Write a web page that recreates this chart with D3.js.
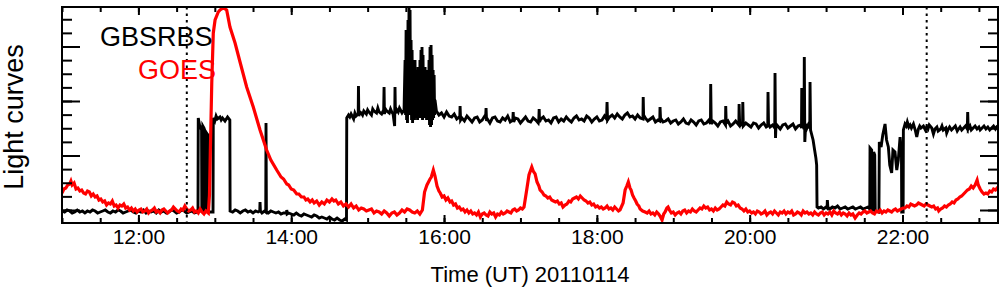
<!DOCTYPE html>
<html>
<head>
<meta charset="utf-8">
<script src="https://cdn.jsdelivr.net/npm/d3@7"></script>
<style>
  body { margin: 0; background: #fff; }
  text { font-family: "Liberation Sans", Arial, Helvetica, sans-serif; }
</style>
</head>
<body>
<script>
// ********************** DATA **************************************************************
// time = minutes after 11:00 UT on 2011-01-14, flux = arbitrary units (one minor tick = 13.625)
var gbsrbs = [
  [0,-1],[2,-2],[4,0],[6,-1],[8,-3],[10,-2],[12,0],[14,-2],[16,-1],[18,-3],[20,-1],[22,-2],[24,0],[26,-1],[28,-3],[30,-2],[32,-1],[34,0],[36,-2],[38,-3],[40,-1],[42,-2],[44,0],[46,-1],[48,-3],[50,-2],[52,-1],[54,0],[56,-2],[58,-3],[60,-1],[62,-2],[64,0],[66,-3],[68,-1],[70,-2],[72,-1],[74,-3],[76,0],[78,-2],[80,-1],[82,-3],[84,-2],[86,0],[88,-1],[90,-3],[92,-2],[94,0],[96,-1],[98,-3],[100,-2],[102,-1],[104,-3],[106.8,-2],
  [107,92],[108,85],[109,82],[109.6,80],[109.8,-1],[110.4,-1],[110.6,84],[111.5,82],[112,80],[112.2,-1],[112.8,-1],[113,78],[114,76],[114.8,75],[115,-2],[118.6,-2],
  [118.8,92],[120,89],[121,94],[122,91],[124,93],[125,90],[126,92],[128,89],[130,93],[131.8,90],[132,-1],
  [134,-2],[136,0],[138,-1],[140,-3],[142,-1],[144,0],[146,-2],[148,-1],[150,-3],[152,-1],[154,-2],[155.3,-1],[155.5,8],[155.8,-1],[157,-3],[159,-1],[160,-2],[160.2,87],[160.5,-2],[162,-3],[164,-1],[166,-2],[168,-3],[170,-2],[172,-4],[174,-3],[176.3,-3],[176.5,0],[176.8,-4],[178,-3],[180,-4],[182,-5],[184,-3],[186,-5],[188,-6],[190,-4],[192,-5],[194,-6],[196,-7],[198,-5],[200,-6],[202,-8],[204,-7],[206,-8],[208,-9],[210,-7],[212,-9],[214,-10],[216,-8],[218,-10],[220,-11],[222,-9],[223.4,-10],
  [223.6,92],[225,95],[226,93],[227,96],[229,91],[230,97],[231,94],[232.6,96],[232.8,124],[233.1,94],[234,98],[235,97],[236,95],[237,99],[239,96],[240,100],[241,98],[243,95],[244,101],[245,99],[247,97],[248,102],[249,98],[251,96],[252.6,100],[252.9,123],[253.2,96],[254,101],[255,99],[257,97],[258,101],[259,98],[260,96],[261.2,84],[261.5,123],[261.8,97],[263,100],[264,98],[265,102],[267,97],[268.6,100],
  [269.4,150],[269.8,95],[270.2,180],[270.6,90],[270.9,175],[271.3,87],[271.7,190],[272.1,95],[272.5,203],[272.9,100],[273.3,200],[273.7,95],[274.1,170],[274.5,90],[274.9,160],[275.3,87],[275.7,150],[276.0,95],[276.4,145],[276.8,90],[277.2,150],[277.6,92],[278.0,135],[278.4,95],[278.8,140],[279.2,90],[279.6,143],[280.0,95],[280.4,130],[280.8,92],[281.1,150],[281.5,95],[281.9,160],[282.3,93],[282.7,163],[283.1,90],[283.5,155],[283.9,95],[284.3,140],[284.7,92],[285.1,143],[285.5,95],[285.9,135],[286.3,90],[286.7,140],[287.0,95],[287.4,125],[287.8,93],[288.2,150],[288.6,85],[289.0,163],[289.4,83],[289.8,165],[290.2,85],[290.6,155],[291.0,90],[291.4,140],[291.8,92],[292.2,135],[292.6,95],[292.9,110],
  [294,99],[296,95],[298,97],[300,93],[302,98],[304,94],[306,93],[308,96],[310,91],[312,93],[312.4,94],[312.6,104],[313,90],[314,92],[316,89],[318,94],[320,91],[322,88],[324,92],[326,93],[328,88],[330,90],[332,94],[332.6,92],[333,102],[333.4,89],[334,91],[336,87],[338,92],[340,93],[342,89],[344,88],[346,92],[348,90],[350,94],[352,88],[354,90],[354.3,98],[354.7,88],[356,92],[358,91],[360,87],[362,90],[364,93],[366,89],[368,88],[370,92],[372,90],[374,87],[374.4,90],[374.7,101],[375,88],[376,91],[378,93],[380,89],[382,90],[384,87],[386,92],[388,93],[390,88],[392,91],[394,89],[396,93],[398,90],[400,88],[402,92],[404,94],[406,90],[408,91],[410,89],[412,94],[414,92],[416,88],[418,91],[420,93],[422,89],[424,90],[426,94],[427.6,91],[428,108],[428.4,90],[430,93],[432,95],[434,92],[436,96],[438,93],[440,91],[442,95],[444,97],[446,93],[448,94],[450,91],[452,95],[454,92],[456.2,91],[456.4,113],[456.7,95],[458,92],[460,89],[462,91],[464,93],[466,88],[468,90],[469.4,89],[469.6,103],[470,92],[472,88],[474,89],[476,91],[478,87],[480,89],[482,90],[484,86],[486,88],[488,91],[490,87],[492,86],[494,90],[496,88],[498,85],[500,89],[502,90],[504,86],[506,87],[508,90],[509.2,86],[509.4,126],[509.8,86],[511,89],[513,87],[515,84],[517,88],[519,89],[521,85],[521.2,104],[521.6,87],[523,89],[525,84],[527,86],[529,89],[531.5,85],[531.7,106],[532.1,88],[533,85],[534.4,87],[534.6,108],[535,84],[537,87],[539,85],[541,83],[543,87],[545,86],[547,82],[549,85],[551,87],[553,83],[554.2,84],[554.4,118],[554.8,86],[556,83],[558,85],[559.7,82],[559.9,137],[560.3,72],[560.7,86],[562,84],[564,81],[566,85],[568,86],[570,82],[572,84],[574,86],[576,81],[578,84],[580,85],[580.7,82],[580.9,122],[581.3,86],[582.7,81],[582.9,153],[583.3,68],[584,86],[585,82],[586,85],[587.2,82],[587.4,128],[587.8,80],[589.8,70],[591,60],[592,52],[592.6,45],[592.9,3],
  [594,2],[596,3],[598,1],[600,3],[600.8,2],[601,10],[601.4,3],[603,1],[605,3],[607,2],[609,4],[611,1],[613,2],[615,3],[617,1],[619,2],[621,3],[623,1],[625,2],[627,3],[629,1],[631,2],[633,3],[634.3,1],
  [634.5,62],[635.8,60],[636.2,0],[637,0],[637.4,58],[638.2,55],[638.6,-1],[641.5,-2],[641.8,68],[643.2,63],[644.5,75],[646.3,86],[647.5,70],[648.9,63],[650,45],[651.5,37],[652.5,60],[654.1,58],[655.5,40],[656.7,50],[658.1,73],[659.2,55],[659.4,-2],[660.5,-2],
  [660.7,80],[662,86],[663,84],[663.8,88],[665,83],[666,85],[667,82],[668.6,86],[670,80],[671.2,73],[672.5,81],[673.5,84],[674.5,82],[676.4,84],[678,80],[679,83],[680,81],[681,85],[683,82],[684.3,76],[685.5,81],[687,83],[688,79],[690,81],[691,84],[692,80],[694,82],[694.7,77],[696,81],[697,83],[698.5,80],[700,82],[701.5,84],[703,79],[704,81],[705.2,83],[706.5,80],[708,82],[709.5,84],[710.9,81],[711.2,98],[711.6,81],[713,84],[714,80],[715.5,82],[717,84],[718.5,81],[720,83],[721,80],[722.5,82],[724,84],[725.5,81],[727,83],[728.5,80],[730,82],[731.5,84],[733,81],[734,83],[735,82]
];

var goes = [
  [0,17],[1.5,21],[3,22],[4.5,25],[6,26],[7,29],[8,25],[9.5,27],[11,21],[12.5,22],[14,19],[15.5,20],[17,17],[18.5,16],[20,19],[21.5,18],[23,14],[24.5,16],[26,13],[27.5,14],[29,10],[30.5,11],[32,8],[33.5,9],[35,5],[36.5,7],[38,6],[39.5,9],[41,4],[42.5,5],[44,2],[45.5,5],[47,4],[48.5,6],[50,2],[51.5,3],[53,0],[54.5,2],[56,-1],[57.5,1],[59,-2],[60.5,0],[62,1],[63.5,-2],[65,-1],[66.5,1],[68,-3],[69.5,-1],[71,0],[72.5,2],[74,-2],[75.5,-1],[77,-3],[78.5,0],[80,1],[81.5,-1],[83,-3],[84.5,-1],[86,0],[87.5,3],[89,1],[90.5,-1],[92,-2],[93.5,1],[95,0],[96.5,4],[98,1],[99.5,-1],[101,0],[102.5,2],[104,-2],[105.5,-1],[107,-3],[108.5,1],[110,-2],[111.5,-4],[113,-1],[114.9,-3],
  [115.8,15],[116.5,60],[117.6,127],[118.8,177],[120.2,190],[122.7,198],[124.1,200],[126.7,202],[129.3,200],[131.9,183],[135.9,167],[139.8,148],[145,123],[150.2,103],[155.5,80],[160.7,60],[164,50],[168.6,40],[172,33],[174,31],[176.5,26],[178,25],[180,21],[182,20],[184.3,16],[186,16],[188,13],[190,13],[191.5,10],[193,11],[194.8,8],[196.5,10],[198,7],[200,9],[202,5],[204,8],[206,6],[208,10],[210,8],[212,11],[213.5,9],[215,10],[217,6],[219,8],[221,4],[223,6],[225,3],[227,6],[229,2],[231,4],
  [233,0],[235,2],[237,1],[239,-1],[241,0],[243,1],[245,-3],[247,-1],[249,-2],[251,-4],[253,-1],[255,-3],[257,-6],[259,-3],[261,-2],[263,-5],[265,-3],[267,0],[269,-2],[271,1],[273,0],[275,-2],[277,-3],[279,-1],[281,-4],[283,0],
  [284.7,18],[286.6,25],[289,31],[290,33],[291.6,40],[292.9,34],[294.5,24],[296,19],[297,17],[298.5,13],[300,14],[301.5,10],[303,12],[304.7,8],[306,9],[307.5,5],[309,6],
  [310.5,2],[312,3],[313.5,0],[315,1],[316.5,-2],[318,0],[319.5,-3],[321,-1],[322.5,-4],[324,-3],[325.5,-5],[327,-2],[328.5,-7],[330,-4],[331.5,-3],[333,-5],[334.5,-6],[336,-2],[337.5,-4],[339,-3],[340.5,-7],[342,-4],[343.5,-5],[345,-2],[346.5,-4],[348,-3],[349.5,-1],[351,-2],[352.5,-3],[354,0],[355.5,1],[357,-1],[358.5,0],[360,2],[361.5,1],[362.8,3],
  [364.9,20],[366.7,35],[368.9,43],[370,39],[371.5,36],[373,28],[374.5,24],[375.4,20],[377,18],[378.5,15],[380,14],[381.5,12],[383,13],[384.5,10],[386,9],[387.5,8],[389,9],[390.5,6],[392,7],[393.4,3],[395,5],[396.5,6],[398,9],[399.5,8],[401,11],[402.5,12],[404,13],[405.5,11],[407,14],[408.5,12],[410,10],[411.5,9],[413,7],[414.5,8],[416,5],[417.5,6],[419,3],[420.5,4],[422,2],[423.5,3],[425,1],[426.5,2],[428,4],[429.5,1],[431,2],[432.5,0],[434,3],[435.5,1],[437,-1],[438.2,0],
  [440.6,7],[442.2,20],[443.5,24],[444.7,28],[446,22],[446.9,20],[448,15],[449.2,12],[450.5,9],[451.6,6],[453,4],
  [454,1],[456,-1],[457.9,-2],[459.5,-3],[461,-1],[462.5,-4],[464,-3],[465.5,-5],[467,-2],[468.5,-4],[469.6,-6],[471.2,-10],[472.5,-4],[473.6,-2],[475,2],[475.9,3],[477,0],[478.5,-3],[480,-2],[481.5,-5],[483,-3],[484.5,-2],[486,-4],[487.5,-1],[489,0],[490.5,-3],[492,-1],[493.5,-2],[495,1],[496.5,-1],[498,-2],[499.5,0],[501,2],[502.5,1],[504,4],[505.5,2],[507,3],[508.5,0],[510,1],[511.5,-1],[513,2],[514.5,0],[516,1],[517.5,3],[519,5],[520.5,4],[522,8],[523.5,6],[525,5],[526.5,8],[528,7],[529.5,4],[531,5],[532.5,2],[534,1],[535.5,-1],[537,1],[538.5,-2],
  [540,-1],[541.5,-3],[543,-2],[544.5,-4],[546,-1],[547.5,-2],[549,-4],[550.5,-3],[552,-1],[553.5,-5],[555,-3],[556.5,-2],[558,-4],[559.5,-1],[561,-3],[562.5,-5],[564,-2],[565.5,-3],[567,-1],[568.5,-4],[570,-2],[571.5,-3],[573,-1],[574.5,-5],[576,-4],[577.5,-2],[579,-3],[580.5,-5],[582,-1],[583.5,-3],[585,-2],[586.5,-4],[588,-3],[589.5,-5],[591,-2],[592.5,-4],[594,-5],[595.5,-3],[597,-2],[598.5,-5],[600,-3],[601.5,-4],[603,-2],[604.5,-5],[606,-1],[607.5,-3],[609,-4],[610.5,-2],[612,-5],[613.5,-3],[615,-4],[616.5,-6],[618,-3],[619.5,-5],[621,-4],[622.8,-8],[624.5,-5],[626,-3],[627.5,-4],[629,-2],[630.5,-1],[632,-3],[633.5,-2],[635,-1],[636.5,-3],[638,-4],[639.5,-1],[641,-2],[642.5,0],[644,-3],[645.5,-1],[647,-2],[648.5,0],[650,-1],[651.5,-2],[653,0],[654.5,1],[656,-1],[657.5,0],[659,1],[660.5,2],
  [662,2],[663.5,4],[665,3],[666.5,6],[668,5],[669.5,4],[671,5],[672.5,7],[674,6],[675.5,5],[677,4],[678.5,6],[680,5],[681.5,4],[683,3],[684.5,4],[686,1],[687.5,2],[688.5,-1],[690,1],[691.5,2],[693,4],[694.5,3],[696,5],[697.5,6],[699,8],[700.5,7],[702,10],[703.5,11],[705,13],[706.5,14],[708,16],[709.5,18],[711,20],[712.5,21],[714,24],[715.5,22],[717,25],[718.6,30],[719.5,25],[721,21],[722.5,18],[724,16],[725.5,17],[727,16],[728.5,19],[730,18],[731.5,21],[733,20],[735,23]
];

var seriesNames = ["GBSRBS", "GOES"];
var seriesColors = ["black", "red"];
var markerTimes = [98, 679];              // dotted lines, minutes after 11:00 (12:38, 22:19)
var majorTickHours = [12, 14, 16, 18, 20, 22];
var yMajorTicks = [0, 54.5, 109, 163.5];
var yMinorStep = 13.625;

// ********************** SETUP **************************************************************
var width = 1004, height = 296;
var plotLeft = 62, plotRight = 998, plotTop = 7, plotBottom = 223;
var t0 = Date.UTC(2011, 0, 14, 11, 0);
function toDate(m) { return new Date(t0 + m * 60000); }

var svg = d3.select("body").append("svg")
    .attr("width", width)
    .attr("height", height);

var x = d3.scaleUtc()
    .domain([toDate(0), toDate(735)])
    .range([plotLeft, plotRight]);

var y = d3.scaleLinear()
    .domain([-13, 203])
    .range([plotBottom, plotTop]);

svg.append("clipPath").attr("id", "plot-clip")
  .append("rect")
    .attr("x", plotLeft).attr("y", plotTop)
    .attr("width", plotRight - plotLeft).attr("height", plotBottom - plotTop);

// ********************** DATA LINES *********************************************************
var line = d3.line()
    .x(function(d) { return x(toDate(d[0])); })
    .y(function(d) { return y(d[1]); });

svg.append("path")
    .datum(gbsrbs)
    .attr("clip-path", "url(#plot-clip)")
    .attr("d", line)
    .attr("fill", "none")
    .attr("stroke", seriesColors[0])
    .attr("stroke-width", 2.9);

svg.append("path")
    .datum(goes)
    .attr("clip-path", "url(#plot-clip)")
    .attr("d", line)
    .attr("fill", "none")
    .attr("stroke", seriesColors[1])
    .attr("stroke-width", 3.2);

// dotted markers
svg.selectAll(".marker")
  .data(markerTimes)
  .enter().append("line")
    .attr("class", "marker")
    .attr("x1", function(d) { return x(toDate(d)); })
    .attr("x2", function(d) { return x(toDate(d)); })
    .attr("y1", plotTop)
    .attr("y2", plotBottom)
    .attr("stroke", "black")
    .attr("stroke-width", 2)
    .attr("stroke-dasharray", "2.5,4");

// ********************** AXES ***************************************************************
var majorTimes = majorTickHours.map(function(h) { return toDate((h - 11) * 60); });
var minorTimes = d3.range(0, 736, 30).map(toDate);
var yMinorTicks = d3.range(0, 203, yMinorStep);

function styleAxis(g) {
  g.select(".domain").remove();
  g.selectAll(".tick line").attr("stroke", "black").attr("stroke-width", 2);
  g.selectAll(".tick text")
    .attr("fill", "black")
    .style("font-size", "21px")
    .style("font-family", "'Liberation Sans', Arial, Helvetica, sans-serif");
}

// bottom
svg.append("g").attr("transform", "translate(0," + plotBottom + ")")
  .call(d3.axisBottom(x).tickValues(minorTimes).tickSize(-5).tickFormat(""))
  .call(styleAxis);
svg.append("g").attr("transform", "translate(0," + plotBottom + ")")
  .call(d3.axisBottom(x).tickValues(majorTimes).tickSize(-8).tickPadding(6)
        .tickFormat(d3.utcFormat("%H:%M")))
  .call(styleAxis);
// top
svg.append("g").attr("transform", "translate(0," + plotTop + ")")
  .call(d3.axisTop(x).tickValues(minorTimes).tickSize(-5).tickFormat(""))
  .call(styleAxis);
svg.append("g").attr("transform", "translate(0," + plotTop + ")")
  .call(d3.axisTop(x).tickValues(majorTimes).tickSize(-8).tickFormat(""))
  .call(styleAxis);
// left
svg.append("g").attr("transform", "translate(" + plotLeft + ",0)")
  .call(d3.axisLeft(y).tickValues(yMinorTicks).tickSize(-10).tickFormat(""))
  .call(styleAxis);
svg.append("g").attr("transform", "translate(" + plotLeft + ",0)")
  .call(d3.axisLeft(y).tickValues(yMajorTicks).tickSize(-18).tickFormat(""))
  .call(styleAxis);
// right
svg.append("g").attr("transform", "translate(" + plotRight + ",0)")
  .call(d3.axisRight(y).tickValues(yMinorTicks).tickSize(-10).tickFormat(""))
  .call(styleAxis);
svg.append("g").attr("transform", "translate(" + plotRight + ",0)")
  .call(d3.axisRight(y).tickValues(yMajorTicks).tickSize(-18).tickFormat(""))
  .call(styleAxis);

// frame
svg.append("rect")
    .attr("x", plotLeft).attr("y", plotTop)
    .attr("width", plotRight - plotLeft).attr("height", plotBottom - plotTop)
    .attr("fill", "none")
    .attr("stroke", "black")
    .attr("stroke-width", 2);

// ********************** LABELS *************************************************************
svg.append("text")
    .attr("x", (plotLeft + plotRight) / 2)
    .attr("y", 282)
    .attr("text-anchor", "middle")
    .style("font-size", "22px")
    .text("Time (UT) 20110114");

svg.append("text")
    .attr("transform", "translate(23," + ((plotTop + plotBottom) / 2 + 2) + ") rotate(-90)")
    .attr("text-anchor", "middle")
    .style("font-size", "27px")
    .text("Light curves");

// legend
var legendPos = [[100, 46], [138, 79]];
svg.selectAll(".legend")
  .data(seriesNames)
  .enter().append("text")
    .attr("class", "legend")
    .attr("x", function(d, i) { return legendPos[i][0]; })
    .attr("y", function(d, i) { return legendPos[i][1]; })
    .attr("fill", function(d, i) { return seriesColors[i]; })
    .style("font-size", "27px")
    .text(function(d) { return d; });
</script>
</body>
</html>
